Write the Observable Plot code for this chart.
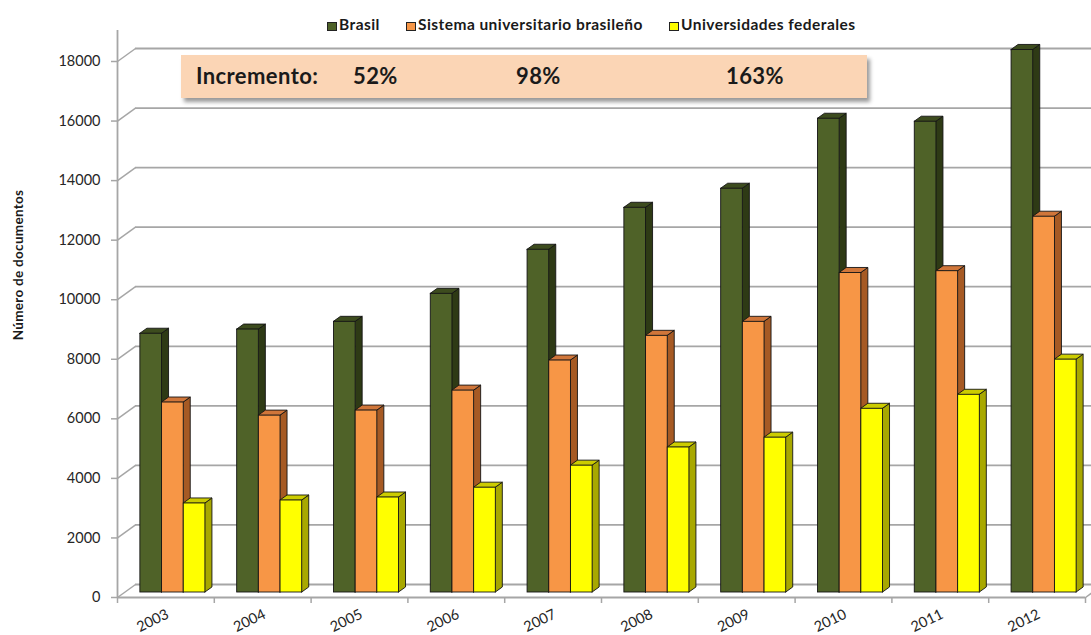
<!DOCTYPE html>
<html>
<head>
<meta charset="utf-8">
<script src="https://cdn.jsdelivr.net/npm/d3@7"></script>
<script src="https://cdn.jsdelivr.net/npm/@observablehq/plot@0.6"></script>
<style>
  html, body { margin: 0; padding: 0; background: #fff; overflow: hidden; }
  #wrap { position: relative; width: 1091px; height: 635px; font-family: Lato, "Open Sans", sans-serif; color: #1a1a1a; }
  #wrap svg { overflow: hidden; }
  .legend { position: absolute; top: 15px; left: 0; font-weight: 700; font-size: 15.5px; letter-spacing: 0.45px; white-space: nowrap; }
  .legend span.item { position: absolute; top: 0; line-height: 18px; }
  .legend i { display: inline-block; width: 8px; height: 7px; border: 1px solid #222; margin-right: 2px; vertical-align: -1px; }
  .ytitle { position: absolute; left: 18px; top: 265px; transform: translate(-50%, -50%) rotate(-90deg); font-weight: 700; font-size: 13.5px; white-space: nowrap; letter-spacing: 0.3px; }
  .increment { position: absolute; left: 181px; top: 55px; width: 686px; height: 43px; background: #fbd5b5; box-shadow: 3px 4px 4px rgba(0,0,0,0.4); font-weight: 700; font-size: 22px; letter-spacing: 0.4px; }
  .increment span { position: absolute; top: 0; line-height: 42px; }
</style>
</head>
<body>
<div id="wrap"></div>
<script>
// Documents per year for each series
const years = ["2003", "2004", "2005", "2006", "2007", "2008", "2009", "2010", "2011", "2012"];
const brasil = [8690, 8830, 9090, 10030, 11510, 12920, 13560, 15910, 15810, 18220];
const sistema = [6380, 5940, 6110, 6780, 7790, 8620, 9090, 10730, 10790, 12620];
const federales = [2990, 3090, 3190, 3520, 4260, 4870, 5200, 6170, 6640, 7820];
const seriesNames = ["Brasil", "Sistema universitario brasileño", "Universidades federales"];
const yTicks = [0, 2000, 4000, 6000, 8000, 10000, 12000, 14000, 16000, 18000];
const incrementLabel = "Incremento:";
const increments = ["52%", "98%", "163%"];
const yTitle = "Número de documentos";

// Face colours: front, side, top
const palette = [
  {front: "#4f6228", side: "#2e3a15", top: "#3d4c1e"},
  {front: "#f79646", side: "#a65a24", top: "#d0763a"},
  {front: "#ffff00", side: "#a8a800", top: "#cccc00"}
];

const W = 1091, H = 635;
const mL = 117, mR = 6, mT = 61, mB = 38;
const pxX = (W - mL - mR) / years.length;   // pixels per year band
const pxY = (H - mT - mB) / 18000;          // pixels per document

// Oblique depth of the walls and of each bar, in pixels, then in data units
const WALL_DX = 18, WALL_DY = 13;
const BAR_DX = 7, BAR_DY = 5;
const BAR_SHIFT_X = 7, BAR_SHIFT_Y = 5;
const wx = WALL_DX / pxX, wy = WALL_DY / pxY;
const bx = BAR_DX / pxX, by = BAR_DY / pxY;
const barW = 0.224;

const valuesBySeries = [brasil, sistema, federales];
const bars = [];
years.forEach((yr, i) => {
  valuesBySeries.forEach((vals, k) => {
    const xl = i + 0.5 + (k - 1.5) * barW;
    bars.push({id: `${yr}-${k}`, k, v: vals[i], xl, xr: xl + barW, ...palette[k]});
  });
});

const sides = bars.flatMap(b => [
  {id: b.id, x: b.xr, y1: 0, y2: b.v, fill: b.side},
  {id: b.id, x: b.xr + bx, y1: by, y2: b.v + by, fill: b.side}
]);
const tops = bars.flatMap(b => [
  {id: b.id, y: b.v, x1: b.xl, x2: b.xr, fill: b.top},
  {id: b.id, y: b.v + by, x1: b.xl + bx, x2: b.xr + bx, fill: b.top}
]);

const grid = "#a6a6a6";
const outline = "#141414";

const chart = Plot.plot({
  width: W,
  height: H,
  marginLeft: mL,
  marginRight: mR,
  marginTop: mT,
  marginBottom: mB,
  x: {domain: [0, years.length], axis: null},
  y: {domain: [0, 18000], axis: null},
  color: {type: "identity"},
  style: {fontFamily: "Lato, 'Open Sans', sans-serif", background: "#fff"},
  marks: [
    // back wall gridlines
    Plot.ruleY(yTicks, {x1: 0, x2: years.length, dx: WALL_DX, dy: -WALL_DY, stroke: grid, strokeWidth: 1.8}),
    // side wall diagonals
    Plot.link(yTicks, {x1: 0, y1: d => d, x2: wx, y2: d => d + wy, stroke: grid, strokeWidth: 1.5}),
    // right end of the floor
    Plot.link([0], {x1: years.length, y1: 0, x2: years.length + wx, y2: wy, stroke: grid, strokeWidth: 1.5}),
    // front axis lines
    Plot.ruleX([0], {y1: 0, y2: 18000 + 31 / pxY, stroke: grid, strokeWidth: 1.8}),
    Plot.ruleY([0], {x1: 0, x2: years.length, stroke: grid, strokeWidth: 1.8}),
    Plot.ruleX(d3.range(years.length + 1), {y1: 0, y2: -6 / pxY, stroke: grid, strokeWidth: 1.5}),
    Plot.ruleY(yTicks, {x1: -6 / pxX, x2: 0, stroke: grid, strokeWidth: 1.5}),
    // bars: side faces, top faces, then front faces
    Plot.areaY(sides, {x: "x", y1: "y1", y2: "y2", z: "id", fill: "fill", stroke: outline, strokeWidth: 0.9, dx: BAR_SHIFT_X, dy: -BAR_SHIFT_Y}),
    Plot.areaX(tops, {y: "y", x1: "x1", x2: "x2", z: "id", fill: "fill", stroke: outline, strokeWidth: 0.9, dx: BAR_SHIFT_X, dy: -BAR_SHIFT_Y}),
    Plot.rect(bars, {x1: "xl", x2: "xr", y1: 0, y2: "v", fill: "front", stroke: outline, strokeWidth: 0.9, dx: BAR_SHIFT_X, dy: -BAR_SHIFT_Y}),
    // tick labels
    Plot.text(yTicks, {x: 0, y: d => d, text: d => String(d), dx: -17, textAnchor: "end", fontSize: 14.5, fill: "#262626"}),
    Plot.text(years, {x: (d, i) => i + 0.5, text: d => d, frameAnchor: "bottom", dx: 4, dy: 20, rotate: -26, textAnchor: "end", fontSize: 14.5, fill: "#262626"})
  ]
});

const wrap = document.getElementById("wrap");
wrap.appendChild(chart);

// legend
const legend = document.createElement("div");
legend.className = "legend";
const legendX = [327, 406, 669];
seriesNames.forEach((name, k) => {
  const item = document.createElement("span");
  item.className = "item";
  item.style.left = legendX[k] + "px";
  const sw = document.createElement("i");
  sw.style.background = palette[k].front;
  item.appendChild(sw);
  item.appendChild(document.createTextNode(name));
  legend.appendChild(item);
});
wrap.appendChild(legend);

// y-axis title
const yt = document.createElement("div");
yt.className = "ytitle";
yt.textContent = yTitle;
wrap.appendChild(yt);

// increment annotation
const box = document.createElement("div");
box.className = "increment";
const boxX = [15, 172, 335, 545];
[incrementLabel, ...increments].forEach((t, j) => {
  const s = document.createElement("span");
  s.style.left = boxX[j] + "px";
  s.textContent = t;
  box.appendChild(s);
});
wrap.appendChild(box);
</script>
</body>
</html>
